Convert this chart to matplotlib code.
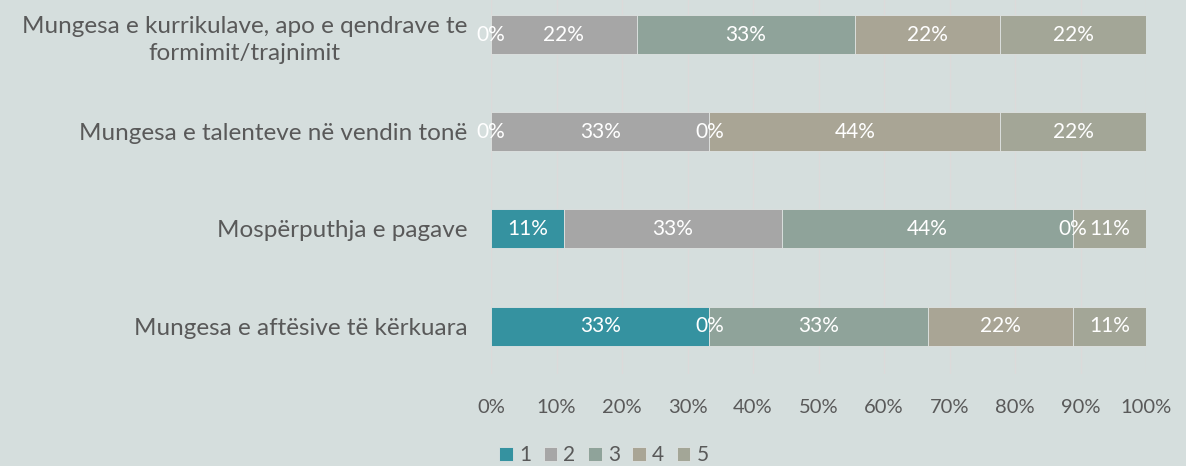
import matplotlib.pyplot as plt
import numpy as np

categorias = ['Mungesa e kurrikulave, apo e qendrave te\nformimit/trajnimit',
              'Mungesa e talenteve në vendin tonë',
              'Mospërputhja e pagave',
              'Mungesa e aftësive të kërkuara']
niveles = ['1', '2', '3', '4', '5']
# numero de respuestas por nivel (de 9)
nivel1 = [0, 0, 1, 3]
nivel2 = [2, 3, 3, 0]
nivel3 = [3, 0, 4, 3]
nivel4 = [2, 4, 0, 2]
nivel5 = [2, 2, 1, 1]
colores = ['#3592a0', '#a6a6a6', '#8fa39a', '#a9a595', '#a3a697']

plt.rcParams['font.family'] = ['Lato', 'DejaVu Sans']
fondo = '#d5dedd'
fig = plt.figure(figsize=(11.86, 4.66), dpi=100, facecolor=fondo)
ax = fig.add_axes([491/1186, 92/466, 655/1186, 374/466], facecolor=fondo)

datos = np.array([nivel1, nivel2, nivel3, nivel4, nivel5], dtype=float)
pct = datos / datos.sum(axis=0) * 100
y = np.arange(len(categorias))
izq = np.zeros(len(categorias))
for i in range(len(niveles)):
    ax.barh(y, pct[i], left=izq, height=0.40, color=colores[i], label=niveles[i],
            edgecolor='#dfe3e2', linewidth=0.6, zorder=2)
    for j in range(len(categorias)):
        ax.text(izq[j] + pct[i][j] / 2, y[j], f'{pct[i][j]:.0f}%', ha='center', va='center',
                color='white', fontsize=15, zorder=3)
    izq = izq + pct[i]

ax.set_xlim(0, 100)
ax.set_ylim(3.493, -0.355)
ax.set_xticks(np.arange(0, 101, 10))
ax.set_xticklabels([f'{v}%' for v in range(0, 101, 10)])
ax.set_yticks(y)
ax.set_yticklabels(categorias, multialignment='center', linespacing=1.4)
ax.tick_params(axis='x', length=0, pad=18, labelsize=14.5, colors='#595959')
ax.tick_params(axis='y', length=0, pad=17, labelsize=17.5, colors='#595959')
ax.grid(axis='x', color='#dcdada', linewidth=1, zorder=0)
for s in ax.spines.values():
    s.set_visible(False)

fig.legend(loc='center', bbox_to_anchor=(604/1186, 1 - 455/466), ncol=5, frameon=False,
           fontsize=15, labelcolor='#595959', handlelength=0.65, handleheight=0.65,
           handletextpad=0.3, columnspacing=0.6)

plt.savefig('out.png', dpi=100, facecolor=fondo)
